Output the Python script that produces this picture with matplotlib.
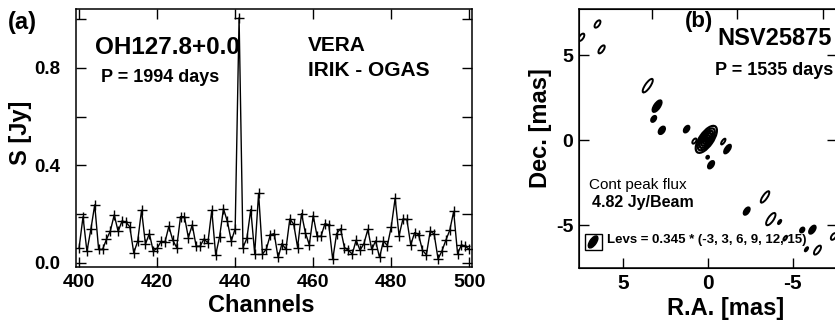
import numpy as np
import matplotlib.pyplot as plt
from matplotlib.patches import Ellipse, Rectangle

plt.rcParams['font.family'] = ['Liberation Sans', 'DejaVu Sans']
plt.rcParams['font.weight'] = 'bold'
plt.rcParams['axes.unicode_minus'] = False

# (a) spectrum, channels 400-500
channels = np.arange(400, 501)
flux = [0.063, 0.189, 0.047, 0.137, 0.238, 0.055, 0.055, 0.096, 0.131, 0.197,
        0.129, 0.172, 0.167, 0.148, 0.041, 0.088, 0.216, 0.077, 0.120, 0.049,
        0.060, 0.088, 0.085, 0.150, 0.093, 0.063, 0.190, 0.189, 0.104, 0.156,
        0.068, 0.068, 0.098, 0.082, 0.216, 0.033, 0.107, 0.222, 0.170, 0.090,
        0.140, 1.006, 0.063, 0.101, 0.219, 0.038, 0.285, 0.036, 0.057, 0.115,
        0.120, 0.022, 0.079, 0.055, 0.180, 0.159, 0.063, 0.202, 0.123, 0.074,
        0.194, 0.109, 0.109, 0.161, 0.156, 0.014, 0.120, 0.140, 0.063, 0.052,
        0.036, 0.093, 0.052, 0.079, 0.137, 0.055, 0.090, 0.022, 0.090, 0.071,
        0.148, 0.265, 0.112, 0.180, 0.178, 0.074, 0.124, 0.116, 0.052, 0.033,
        0.131, 0.118, 0.016, 0.049, 0.093, 0.134, 0.211, 0.038, 0.074, 0.068,
        0.055]

# (b) maser spots: R.A., Dec. offsets [mas], full axes [mas], filled or open
spot_ra = [7.46, 6.51, 6.27, 3.55, 3.00, 3.20, 2.72, 1.26, 0.80, -0.90,
           -1.15, 0.02, -0.18, -3.36, -2.28, -3.70, -4.22, -5.55, -6.15,
           -4.55, -5.80, -6.45, -7.40]
spot_dec = [6.04, 6.82, 5.33, 3.20, 2.00, 1.25, 0.58, 0.65, -0.05, -0.08,
            -0.52, -1.00, -1.44, -3.33, -4.16, -4.63, -4.80, -5.27, -5.25,
            -5.75, -6.40, -6.45, -5.65]
spot_major = [0.50, 0.50, 0.55, 0.95, 0.80, 0.40, 0.50, 0.45, 0.35, 0.40,
              0.60, 0.18, 0.50, 0.80, 0.50, 0.85, 0.28, 0.32, 0.55,
              0.32, 0.28, 0.62, 0.45]
spot_minor = [0.24, 0.24, 0.24, 0.30, 0.34, 0.24, 0.30, 0.26, 0.18, 0.15,
              0.26, 0.15, 0.28, 0.26, 0.26, 0.32, 0.12, 0.22, 0.28,
              0.14, 0.12, 0.26, 0.24]
spot_filled = [False, False, False, False, True, True, True, True, False, False,
               True, True, True, False, True, False, False, True, True,
               False, False, False, False]

# central source: nested contour levels
core_ra, core_dec = 0.10, 0.05
core_major = [1.85, 1.50, 1.18, 0.88, 0.58, 0.30]
core_minor = [0.80, 0.64, 0.50, 0.37, 0.25, 0.13]

beam_ra, beam_dec = 6.77, -5.97
beam_major, beam_minor = 0.82, 0.38
pa = 125

fig = plt.figure(figsize=(8.35, 3.21), dpi=100)

# ---------- panel (a) ----------
ax1 = fig.add_axes([76/835, 54/321, 396/835, 258/321])
ax1.plot(channels, flux, color='black', lw=1.0, marker='+', ms=7, mew=1.0)
ax1.set_xlim(399.2, 500.7)
ax1.set_ylim(-0.017, 1.042)
ax1.set_xticks([400, 420, 440, 460, 480, 500])
ax1.set_yticks([0.0, 0.2, 0.4, 0.6, 0.8, 1.0])
ax1.set_yticklabels(['0.0', '', '0.4', '', '0.8', ''])
ax1.tick_params(axis='both', direction='in', length=7, width=1,
                top=True, right=True)
ax1.tick_params(axis='x', labelsize=14, pad=5)
ax1.tick_params(axis='y', labelsize=13.5, pad=11)
for s in ax1.spines.values():
    s.set_linewidth(1.1)

ax1.text(0.048, 0.849, 'OH127.8+0.0', transform=ax1.transAxes,
         fontsize=17.5, va='center', ha='left')
ax1.text(0.063, 0.733, 'P = 1994 days', transform=ax1.transAxes,
         fontsize=13, va='center', ha='left')
ax1.text(0.586, 0.86, 'VERA', transform=ax1.transAxes,
         fontsize=15, va='center', ha='left')
ax1.text(0.586, 0.76, 'IRIK - OGAS', transform=ax1.transAxes,
         fontsize=15, va='center', ha='left')

fig.text(0.0096, 0.931, '(a)', fontsize=17, va='center', ha='left')
fig.text(261/835, 0.028, 'Channels', fontsize=17, ha='center', va='baseline')
fig.text(20/835, 1 - 133/321, 'S [Jy]', fontsize=17, rotation=90,
         ha='center', va='center')

# ---------- panel (b) ----------
ax2 = fig.add_axes([579/835, 53/321, 258/835, 259/321])
ax2.set_xlim(7.6, -7.6)
ax2.set_ylim(-7.5, 7.7)

for ra, dec, a, b, f in zip(spot_ra, spot_dec, spot_major, spot_minor, spot_filled):
    ax2.add_patch(Ellipse((ra, dec), a, b, angle=pa,
                          facecolor='black' if f else 'none',
                          edgecolor='black', lw=1.4))
for a, b in zip(core_major, core_minor):
    ax2.add_patch(Ellipse((core_ra, core_dec), a, b, angle=pa,
                          facecolor='none', edgecolor='black', lw=1.6))

ax2.add_patch(Rectangle((beam_ra - 0.5, beam_dec - 0.47), 1.0, 0.94,
                        facecolor='none', edgecolor='black', lw=1.0))
ax2.add_patch(Ellipse((beam_ra, beam_dec), beam_major, beam_minor, angle=pa,
                      facecolor='black', edgecolor='black'))

ax2.set_xticks([5, 0, -5])
ax2.set_yticks([-5, 0, 5])
ax2.tick_params(axis='both', direction='in', length=7, width=1,
                top=False, right=True)
ax2.tick_params(axis='x', labelsize=15, pad=4)
ax2.tick_params(axis='y', labelsize=14, pad=4)
for s in ax2.spines.values():
    s.set_linewidth(1.1)

top = ax2.twiny()
top.set_xlim(ax2.get_xlim())
top.set_xticks([3.27, -1.73, -6.77])
top.tick_params(axis='x', direction='in', length=7, width=1, labeltop=False)

ax2.text(0.411, 0.95, '(b)', transform=ax2.transAxes, fontsize=16,
         va='center', ha='left')
ax2.text(0.535, 0.886, 'NSV25875', transform=ax2.transAxes, fontsize=17,
         va='center', ha='left')
ax2.text(0.527, 0.761, 'P = 1535 days', transform=ax2.transAxes, fontsize=13,
         va='center', ha='left')
ax2.text(0.039, 0.32, 'Cont peak flux', transform=ax2.transAxes, fontsize=11,
         fontweight='normal', va='center', ha='left')
ax2.text(0.05, 0.251, '4.82 Jy/Beam', transform=ax2.transAxes, fontsize=11.5,
         va='center', ha='left')
ax2.text(0.109, 0.108, 'Levs = 0.345 * (-3, 3, 6, 9, 12, 15)',
         transform=ax2.transAxes, fontsize=9.5, va='center', ha='left')

fig.text(726/835, 0.019, 'R.A. [mas]', fontsize=17, ha='center', va='baseline')
fig.text(540/835, 1 - 128.5/321, 'Dec. [mas]', fontsize=17, rotation=90,
         ha='center', va='center')

fig.savefig('out.png', dpi=100)
